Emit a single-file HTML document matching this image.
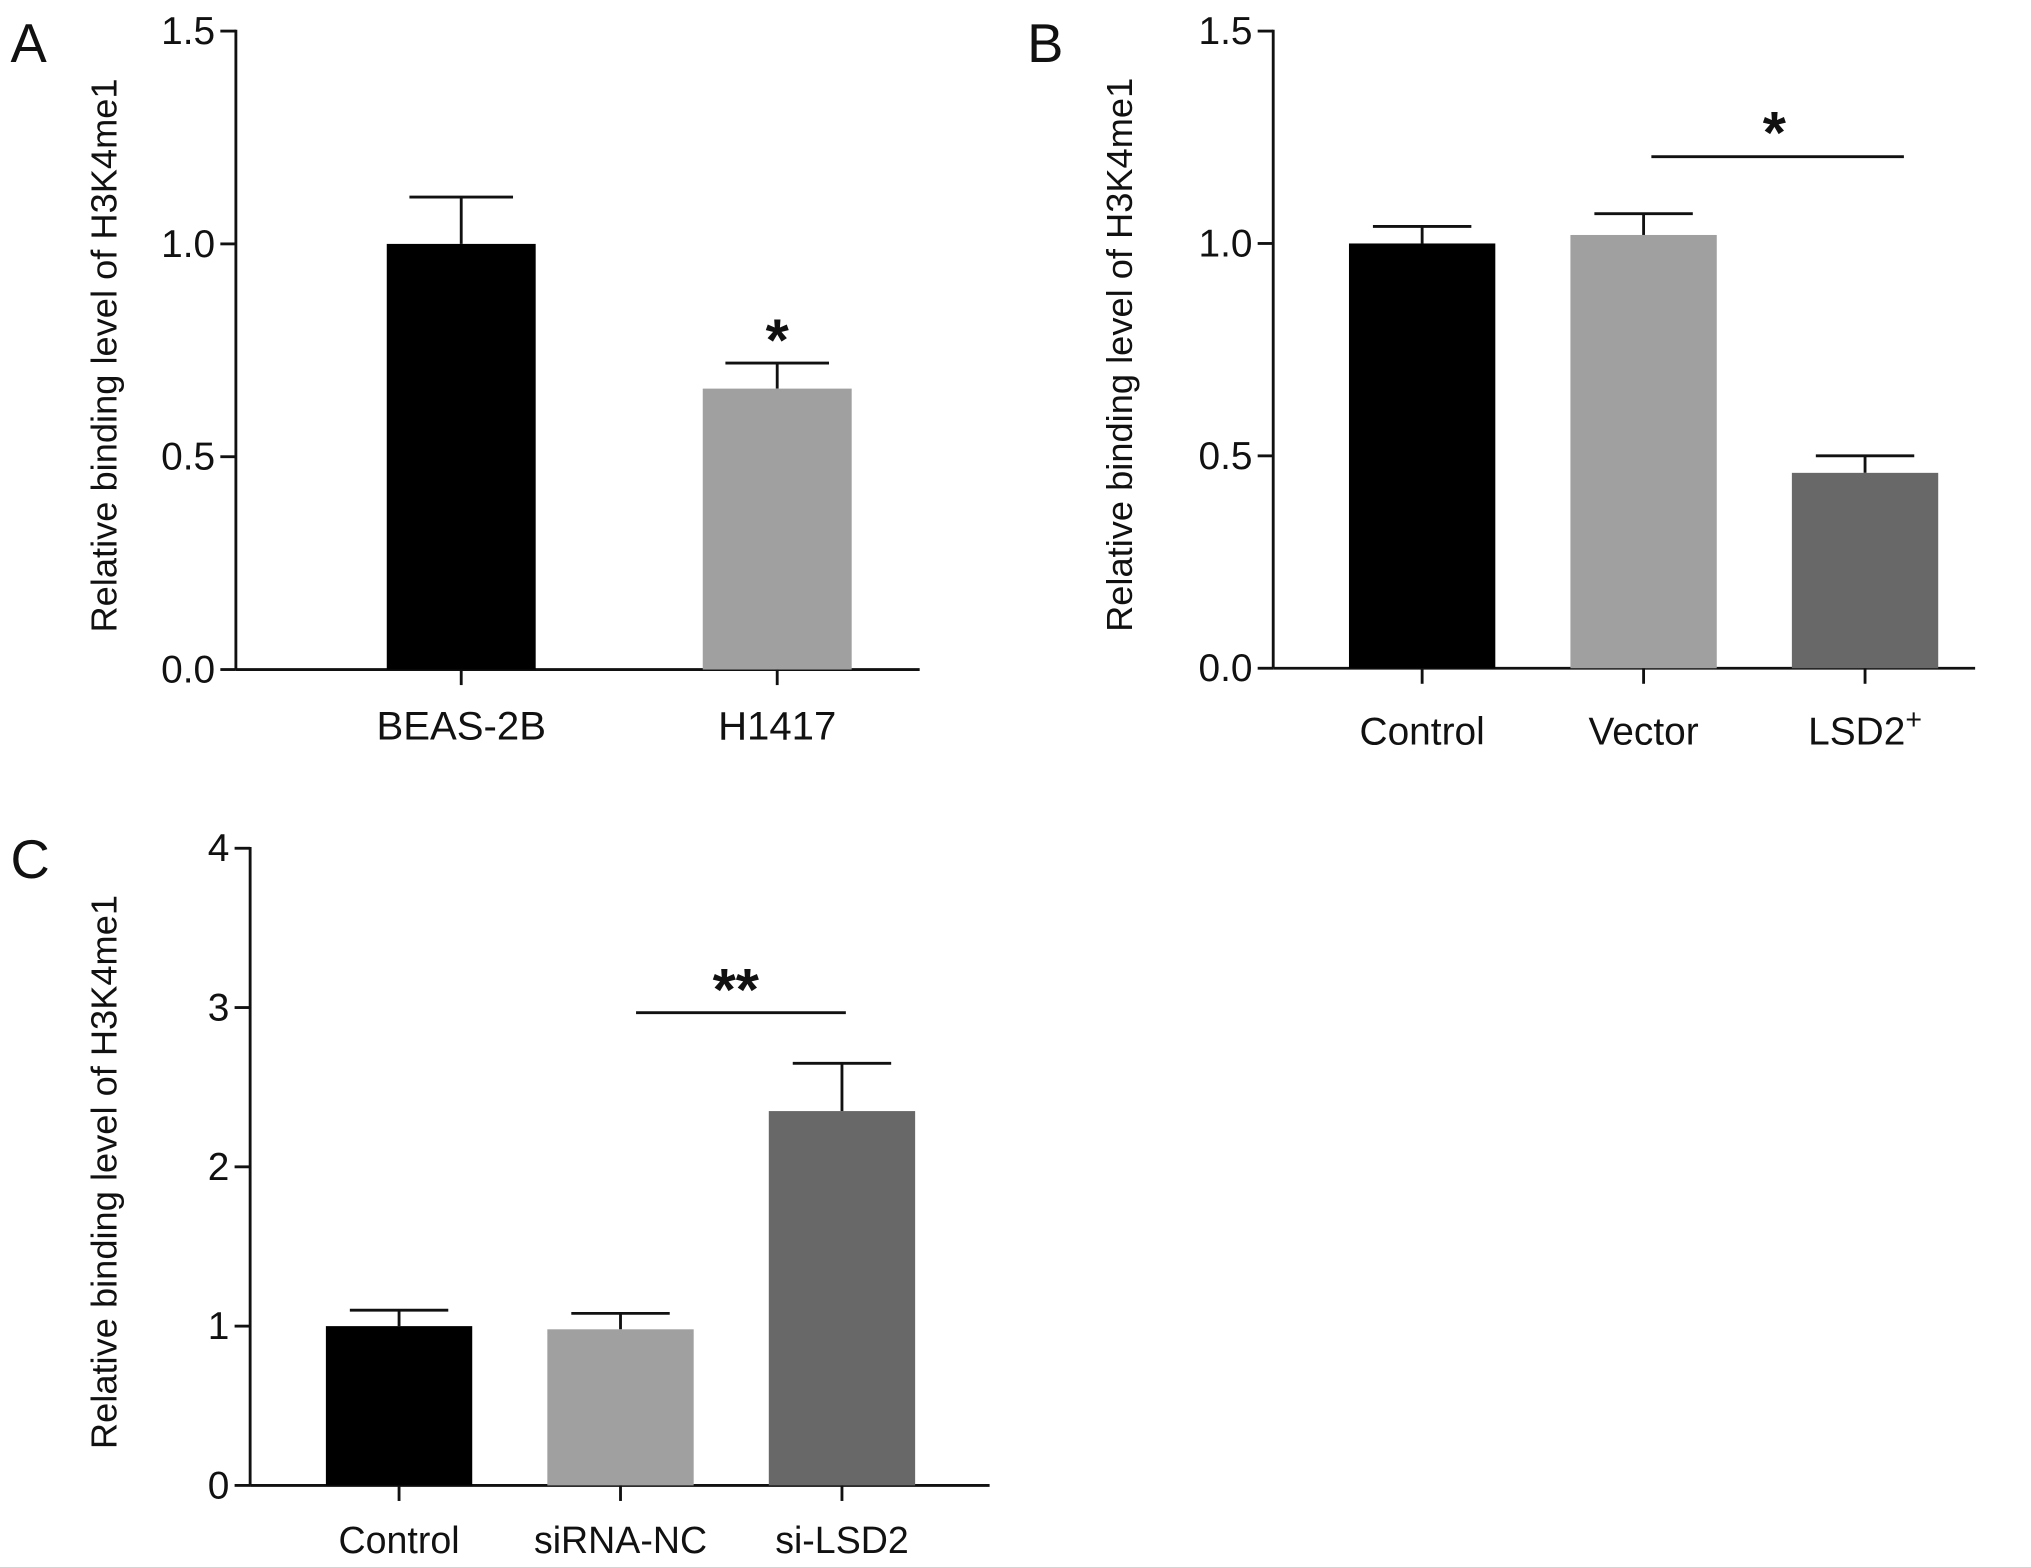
<!DOCTYPE html>
<html><head><meta charset="utf-8"><style>
html,body{margin:0;padding:0;background:#fff}
svg{display:block}
text{font-family:"Liberation Sans",Arial,sans-serif;fill:#111}
</style></head><body>
<svg id="fig" width="2031" height="1567" viewBox="0 0 1568 1210" xmlns="http://www.w3.org/2000/svg"></svg>
<script>
// Panel A data
const catsA = ["BEAS-2B", "H1417"];
const valsA = [1.0, 0.66];
const errsA = [0.11, 0.06];
const colsA = ["#000", "#a0a0a0"];
const ticksA = [0, 0.5, 1.0, 1.5];
const tickLabelsA = ["0.0", "0.5", "1.0", "1.5"];
// Panel B data
const catsB = ["Control", "Vector", "LSD2"];
const valsB = [1.0, 1.02, 0.46];
const errsB = [0.04, 0.05, 0.04];
const colsB = ["#000", "#a0a0a0", "#686868"];
const ticksB = [0, 0.5, 1.0, 1.5];
const tickLabelsB = ["0.0", "0.5", "1.0", "1.5"];
// Panel C data
const catsC = ["Control", "siRNA-NC", "si-LSD2"];
const valsC = [1.0, 0.98, 2.35];
const errsC = [0.1, 0.1, 0.3];
const colsC = ["#000", "#a0a0a0", "#686868"];
const ticksC = [0, 1, 2, 3, 4];
const tickLabelsC = ["0", "1", "2", "3", "4"];

const svg = document.getElementById('fig');
const NS = "http://www.w3.org/2000/svg";
function el(tag, attrs, parent){
  const e = document.createElementNS(NS, tag);
  for (const k in attrs) e.setAttribute(k, attrs[k]);
  (parent||svg).appendChild(e); return e;
}
function panel(o){
  const g = el('g', {});
  
  
  const y = v => o.y0 - (v - o.ymin) / (o.ymax - o.ymin) * (o.y0 - o.y1);
  const xc = i => o.x0 + o.padL + i * o.step;
  const ya = el('line', {x1:o.x0, y1:o.y1-1, x2:o.x0, y2:o.y0, stroke:'#111','stroke-width':2.2}, g);
  
  
  const xa = el('line', {x1:o.x0, y1:o.y0, x2:o.x1, y2:o.y0, stroke:'#111','stroke-width':2.2}, g);
  
  
  o.ticks.forEach((t, i) => {
    el('line', {x1:o.x0-12, y1:y(t), x2:o.x0, y2:y(t), stroke:'#111','stroke-width':2.2}, g);
    const tl = el('text', {x:o.x0-16, y:y(t)+10, 'text-anchor':'end','font-size':30}, g);
    tl.textContent = o.tickLabels[i];
    
    
  });
  o.cats.forEach((c, i) => {
    const cx = xc(i), v = o.vals[i], e = o.errs[i];
    el('line', {x1:cx, y1:y(v+e), x2:cx, y2:y(v), stroke:'#111','stroke-width':2.2}, g);
    el('line', {x1:cx-o.capW/2, y1:y(v+e), x2:cx+o.capW/2, y2:y(v+e), stroke:'#111','stroke-width':2.2}, g);
    const b = el('rect', {x:cx-o.barW/2, y:y(v), width:o.barW, height:o.y0-y(v), fill:o.cols[i]}, g);
    
    
    el('line', {x1:cx, y1:o.y0, x2:cx, y2:o.y0+12, stroke:'#111','stroke-width':2.2}, g);
    const lb = el('text', {x:cx, y:o.labY, 'text-anchor':'middle','font-size':o.labFs}, g);
    lb.textContent = c;
    if (o.sup && o.sup[i]) { const ts = el('tspan', {dy:-12,'font-size':22}, lb); ts.textContent = o.sup[i]; }
    
    
  });
  const yt = el('text', {x:0, y:0, 'text-anchor':'middle','font-size':28, transform:`translate(${o.titleX},${(o.y0+o.y1)/2 + 4}) rotate(-90)`}, g);
  yt.textContent = 'Relative binding level of H3K4me1';
  
  
  const pl = el('text', {x:o.letX, y:o.letY, 'font-size':42}, g);
  pl.textContent = o.id;
  
  
  return {g, y, xc};
}
const A = panel({id:'A', cats:catsA, vals:valsA, errs:errsA, cols:colsA, ticks:ticksA, tickLabels:tickLabelsA,
  x0:182, x1:710, y0:517, y1:24, ymin:0, ymax:1.5, padL:174, step:244, barW:115, capW:80, labY:571, labFs:31,
  titleX:90, letX:8, letY:48});
const sA = el('text', {x:A.xc(1), y:A.y(valsA[1]+errsA[1])-2, 'text-anchor':'middle','font-size':46,'font-weight':'bold'}, A.g);
sA.textContent = '*';



const B = panel({id:'B', cats:catsB, vals:valsB, errs:errsB, cols:colsB, ticks:ticksB, tickLabels:tickLabelsB, sup:[null,null,'+'],
  x0:983, x1:1525, y0:516, y1:24, ymin:0, ymax:1.5, padL:115, step:171, barW:113, capW:76, labY:575, labFs:30,
  titleX:874, letX:793, letY:48});
el('line', {x1:1275, y1:121, x2:1470, y2:121, stroke:'#111','stroke-width':2.2}, B.g);
const sB = el('text', {x:1370, y:118, 'text-anchor':'middle','font-size':46,'font-weight':'bold'}, B.g);
sB.textContent = '*';



const C = panel({id:'C', cats:catsC, vals:valsC, errs:errsC, cols:colsC, ticks:ticksC, tickLabels:tickLabelsC,
  x0:193, x1:764, y0:1147, y1:655, ymin:0, ymax:4, padL:115, step:171, barW:113, capW:76, labY:1199, labFs:29,
  titleX:90, letX:8, letY:678});
el('line', {x1:491, y1:782, x2:653, y2:782, stroke:'#111','stroke-width':2.2}, C.g);
const sC = el('text', {x:568, y:780, 'text-anchor':'middle','font-size':46,'font-weight':'bold'}, C.g);
sC.textContent = '**';


</script>
</body></html>
